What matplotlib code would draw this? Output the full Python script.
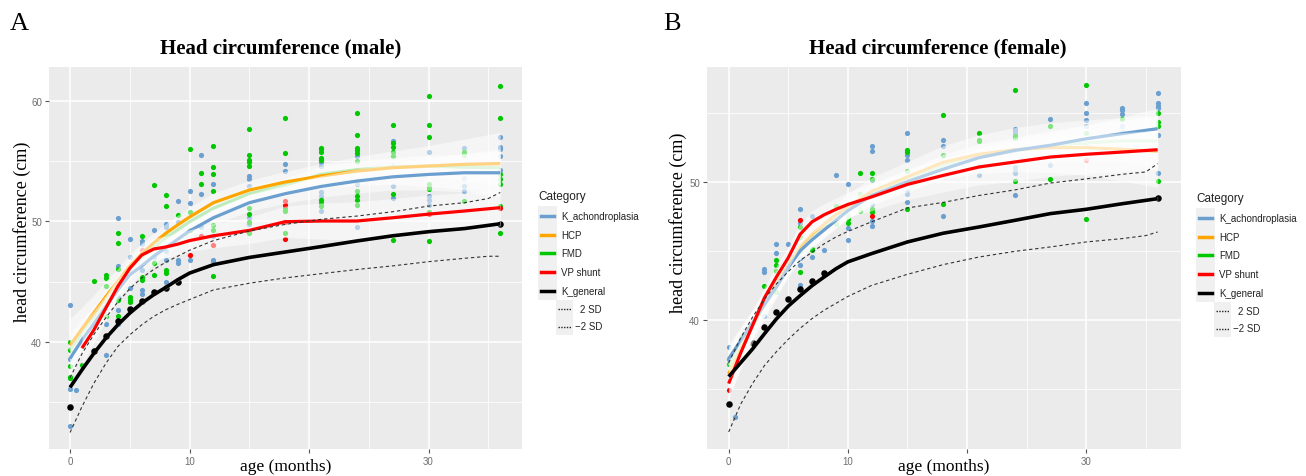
import numpy as np
import matplotlib
matplotlib.use("Agg")
import matplotlib.pyplot as plt
from matplotlib.patches import Rectangle
from matplotlib.lines import Line2D

plt.rcParams['font.family'] = ['Liberation Sans', 'DejaVu Sans']

# ---- smoothed curves (age grid shared by every curve) ----
ages = [0, 1, 2, 3, 4, 5, 6, 7, 8, 9, 10, 12, 15, 18, 21, 24, 27, 30, 33, 36]
sd_ages = [0, 1, 2, 3, 4, 5, 6, 7, 8, 9, 10, 12, 15, 18, 21, 24, 27, 30, 33, 35, 36]

categories = ['K_achondroplasia', 'HCP', 'FMD', 'VP shunt', 'K_general']
sd_labels = ['2 SD', '\u22122 SD']

# male
m_achon = [38.6, 40.15, 41.5, 42.9, 44.3, 45.55, 46.3, 47.1, 47.8, 48.5, 49.2, 50.3, 51.55, 52.3, 52.9, 53.35, 53.7, 53.9, 54.04, 54.04]
m_hcp = [39.7, 41.07, 42.4, 43.75, 45.0, 46.3, 47.3, 48.2, 49.0, 49.7, 50.36, 51.55, 52.6, 53.27, 53.77, 54.18, 54.46, 54.6, 54.74, 54.8]
m_fmd = [39.3, 40.7, 42.0, 43.3, 44.6, 46.0, 47.0, 47.8, 48.6, 49.3, 49.97, 51.1, 52.3, 53.0, 53.9, 54.3, 54.5, 54.6, 54.5, 54.46]
m_vp = [np.nan, 39.46, 40.98, 42.8, 44.6, 46.1, 47.2, 47.7, 47.87, 48.1, 48.4, 48.8, 49.25, 49.97, 50.03, 50.03, 50.3, 50.6, 50.86, 51.14]
m_gen = [36.2, 37.66, 39.04, 40.3, 41.4, 42.37, 43.2, 43.9, 44.5, 45.14, 45.7, 46.4, 47.0, 47.45, 47.9, 48.37, 48.8, 49.14, 49.4, 49.8]
m_up = [37.0, 39.0, 40.6, 42.0, 43.3, 44.4, 45.3, 46.0, 46.6, 47.1, 47.6, 48.4, 49.2, 49.75, 50.17, 50.44, 50.8, 51.27, 51.55, 51.9, 52.4]
m_low = [32.45, 34.6, 36.55, 38.2, 39.6, 40.57, 41.4, 42.1, 42.65, 43.1, 43.5, 44.3, 44.86, 45.3, 45.65, 46.0, 46.3, 46.65, 46.93, 47.1, 47.1]
# standard-error half widths of the smooths
m_achon_se = [1.6, 1.3, 1.1, 1.0, 0.9, 0.8, 0.7, 0.7, 0.6, 0.6, 0.6, 0.6, 0.7, 0.8, 0.9, 1.0, 1.1, 1.3, 1.6, 2.0]
m_hcp_se = [2.2, 1.8, 1.5, 1.3, 1.1, 1.0, 0.9, 0.8, 0.8, 0.8, 0.8, 0.8, 0.8, 0.9, 1.0, 1.2, 1.4, 1.7, 2.1, 2.6]
m_fmd_se = [1.4, 1.2, 1.0, 0.9, 0.8, 0.7, 0.6, 0.6, 0.6, 0.6, 0.6, 0.6, 0.6, 0.6, 0.7, 0.7, 0.8, 0.9, 1.1, 1.4]
m_vp_se = [np.nan, 1.4, 1.1, 1.0, 0.9, 0.9, 0.9, 0.9, 0.9, 0.9, 0.9, 1.0, 1.1, 1.3, 1.5, 1.6, 1.6, 1.6, 1.5, 1.5]
m_gen_se = [0.15] * 20

# female
f_achon = [37.2, 38.5, 39.8, 41.1, 42.4, 43.8, 45.0, 45.8, 46.5, 47.2, 47.9, 49.0, 50.0, 50.9, 51.73, 52.26, 52.63, 53.1, 53.47, 53.83]
f_hcp = [36.1, 37.9, 39.6, 41.1, 42.6, 44.0, 45.3, 46.2, 46.9, 47.6, 48.2, 49.3, 50.35, 51.4, 51.98, 52.31, 52.46, 52.46, 52.34, 52.2]
f_fmd = [36.7, 38.2, 39.7, 41.1, 42.5, 43.9, 45.1, 46.0, 46.7, 47.4, 48.0, 49.1, 50.15, 51.18, 51.83, 52.2, 52.6, 52.8, 52.94, 52.94]
f_vp = [35.4, 37.6, 39.6, 41.6, 43.1, 44.5, 46.2, 47.1, 47.6, 48.0, 48.35, 48.9, 49.8, 50.45, 51.06, 51.42, 51.78, 51.98, 52.14, 52.31]
f_gen = [35.9, 36.9, 37.9, 39.0, 40.07, 41.0, 41.76, 42.48, 43.1, 43.7, 44.2, 44.8, 45.64, 46.27, 46.72, 47.2, 47.69, 48.0, 48.4, 48.77]
f_up = [36.9, 38.7, 40.2, 41.5, 42.6, 43.5, 44.3, 44.9, 45.5, 46.0, 46.4, 47.1, 48.1, 48.5, 49.0, 49.4, 49.9, 50.2, 50.53, 50.7, 51.3]
f_low = [31.9, 33.9, 35.4, 36.7, 37.7, 38.6, 39.4, 40.1, 40.7, 41.2, 41.7, 42.5, 43.3, 44.0, 44.55, 44.96, 45.28, 45.64, 45.88, 46.1, 46.36]
f_achon_se = [1.1, 1.0, 0.9, 0.8, 0.7, 0.6, 0.6, 0.6, 0.6, 0.6, 0.6, 0.6, 0.6, 0.7, 0.7, 0.8, 0.9, 1.0, 1.2, 1.5]
f_hcp_se = [1.8, 1.5, 1.2, 1.1, 1.0, 0.9, 0.9, 0.9, 0.9, 0.9, 0.9, 1.0, 1.1, 1.2, 1.4, 1.6, 1.8, 2.0, 2.3, 2.6]
f_fmd_se = [1.3, 1.1, 1.0, 0.9, 0.8, 0.7, 0.7, 0.7, 0.7, 0.7, 0.7, 0.7, 0.7, 0.8, 0.9, 1.0, 1.1, 1.3, 1.5, 1.8]
f_vp_se = [1.1, 1.0, 0.9, 0.8, 0.8, 0.8, 0.8, 0.8, 0.8, 0.8, 0.9, 1.0, 1.1, 1.2, 1.3, 1.4, 1.4, 1.4, 1.4, 1.4]
f_gen_se = [0.15] * 20

# ---- individual measurements ----
m_achon_x = [0, 0, 0, 0, 0.5, 3, 3, 4, 4, 4, 4, 4, 5, 5, 5, 5, 6, 6, 6, 6, 6, 7, 7, 8, 8, 8, 8, 8,
             9, 9, 9, 9, 10, 10, 10, 11, 11, 11, 12, 12, 12, 12, 15, 15, 15, 15, 15, 18, 18,
             21, 21, 21, 21, 21, 24, 24, 24, 27, 27, 27, 27, 30, 30, 30, 30, 33, 33, 33, 33, 33,
             36, 36, 36, 36, 36]
m_achon_y = [43.06, 38.6, 36.05, 33.0, 36.0, 41.5, 38.9, 50.3, 46.3, 43.75, 42.6, 41.5, 48.5, 47.0, 45.7, 44.5,
             48.4, 48.1, 45.97, 44.3, 44.0, 49.25, 47.0, 49.75, 49.5, 47.5, 46.75, 45.0,
             51.7, 49.97, 46.8, 46.5, 52.5, 51.5, 46.8, 55.5, 52.3, 49.5, 53.13, 48.8, 46.8, 46.7,
             53.8, 53.5, 52.9, 50.3, 49.75, 54.8, 54.2,
             54.9, 54.6, 52.4, 52.1, 50.9, 55.4, 53.07, 49.5, 56.7, 54.6, 52.9, 51.97,
             55.8, 52.1, 51.8, 51.4, 56.07, 54.7, 53.6, 52.9, 52.5, 57.0, 56.2, 55.98, 55.4, 54.3]
m_fmd_x = [0, 0, 0, 0, 0, 1, 2, 3, 3, 3, 3, 4, 4, 4, 4, 4, 5, 5, 5, 6, 6, 6, 7, 7, 7, 8, 8, 8, 8, 8,
           9, 10, 10, 10, 11, 11, 12, 12, 12, 12, 12, 12, 12, 15, 15, 15, 15, 15, 15, 15, 15, 15,
           18, 18, 18, 18, 18, 21, 21, 21, 21, 21, 21, 21, 21, 24, 24, 24, 24, 24, 24, 24, 24, 24, 24,
           27, 27, 27, 27, 27, 27, 27, 30, 30, 30, 30, 30, 30, 30, 30, 33, 33, 33,
           36, 36, 36, 36, 36, 36, 36]
m_fmd_y = [40.0, 39.3, 38.0, 37.1, 37.0, 38.07, 45.05, 45.55, 45.3, 44.6, 42.1, 49.06, 48.2, 46.05, 43.5, 42.1,
           43.75, 43.5, 43.3, 48.8, 45.4, 45.1, 53.0, 46.5, 45.55, 52.2, 51.25, 48.9, 45.97, 45.7,
           50.5, 56.0, 50.8, 49.25, 54.0, 53.1, 56.3, 54.5, 53.96, 52.5, 49.7, 49.25, 45.5,
           57.7, 55.5, 55.07, 54.9, 54.6, 51.1, 50.6, 49.97, 49.06,
           58.6, 55.7, 51.1, 50.9, 49.0, 56.1, 56.0, 55.8, 55.3, 55.1, 51.8, 51.55, 51.3,
           58.97, 57.2, 56.1, 55.9, 55.7, 55.0, 52.5, 52.1, 51.75, 51.4,
           57.98, 56.5, 56.2, 55.8, 55.4, 52.3, 48.45, 60.4, 57.98, 57.0, 53.07, 52.85, 52.65, 50.8, 48.4,
           55.8, 55.5, 51.7, 61.27, 58.56, 53.9, 53.5, 53.07, 51.27, 49.06]
m_vp_x = [1, 6, 10, 11, 12, 18, 18, 18, 18, 30, 36]
m_vp_y = [39.7, 47.6, 47.2, 48.8, 48.0, 51.7, 51.4, 49.96, 48.5, 50.6, 51.1]
m_gen_x = [0, 2, 3, 4, 5, 6, 7, 8, 9, 36]
m_gen_y = [34.6, 39.2, 40.5, 41.7, 42.7, 43.4, 44.1, 44.5, 45.0, 49.8]

f_achon_x = [0, 0, 0.5, 3, 3, 3, 4, 4, 5, 6, 6, 6, 6, 6, 6, 7, 7, 8, 9, 10, 10, 10,
             12, 12, 12, 12, 12, 12, 12, 15, 15, 15, 15, 15, 15, 18, 18, 18, 21,
             24, 24, 24, 24, 24, 24, 24, 27, 27, 30, 30, 30, 30, 30, 33, 33, 33, 33, 33,
             36, 36, 36, 36, 36, 36]
f_achon_y = [38.02, 37.18, 32.96, 43.7, 43.5, 40.3, 45.5, 44.84, 45.5, 48.05, 47.0, 45.3, 44.5, 43.98, 42.5,
             47.5, 44.55, 45.04, 50.5, 49.8, 46.67, 45.8,
             52.6, 52.2, 50.1, 49.4, 48.4, 47.13, 46.8, 53.54, 51.95, 51.6, 49.37, 49.13, 48.5,
             53.04, 52.55, 47.5, 50.5, 53.83, 53.64, 53.47, 51.06, 50.8, 50.6, 49.0, 54.5, 51.18,
             55.7, 54.96, 54.43, 54.0, 52.75, 55.35, 55.16, 54.9, 54.0, 53.6,
             56.43, 55.69, 55.5, 55.3, 53.35, 50.6]
f_fmd_x = [0, 1, 3, 4, 4, 4, 4, 6, 6, 6, 6, 6, 7, 7, 9, 9, 10, 10, 10, 11, 11, 11, 11,
           12, 12, 12, 12, 15, 15, 15, 15, 18, 18, 18, 21, 21, 21, 21, 24, 24, 24, 24,
           27, 27, 30, 30, 30, 33, 36, 36, 36, 36]
f_fmd_y = [36.8, 38.75, 42.43, 44.3, 44.0, 43.57, 42.0, 46.7, 46.0, 45.15, 45.0, 43.5, 45.15, 45.04,
           48.24, 46.96, 47.57, 47.3, 47.0, 50.6, 49.1, 48.0, 47.9, 50.6, 50.2, 48.05, 47.8,
           52.3, 52.14, 50.77, 48.05, 54.84, 51.9, 48.4, 53.5, 53.04, 52.94, 51.1,
           56.65, 53.28, 53.16, 50.02, 54.0, 50.2, 57.0, 53.54, 47.33, 54.5, 54.99, 54.3, 54.0, 50.02]
f_vp_x = [0, 6, 12, 30]
f_vp_y = [34.96, 47.25, 47.5, 51.6]
f_gen_x = [0, 2, 3, 4, 5, 6, 7, 8, 36]
f_gen_y = [33.93, 38.3, 39.47, 40.6, 41.5, 42.24, 42.8, 43.4, 48.8]

colors = ['#6A9FCF', '#FFA500', '#00C800', '#FF0000', '#000000']
line_colors = ['#6A9FCF', '#FFA500', '#7FD97F', '#FF0000', '#000000']

W, H = 1306, 477
fig = plt.figure(figsize=(W / 100, H / 100), dpi=100)


def fx(px):
    return px / W


def fy(py):
    return 1 - py / H


def panel(rect, xlim, ylim, pts, curves, ses, up, low, title, title_x, letter, letter_x):
    ax = fig.add_axes(rect)
    ax.set_facecolor('#EBEBEB')
    for s in ax.spines.values():
        s.set_visible(False)
    ax.set_xticks([0, 10, 20, 30])
    ax.set_xticklabels(['0', '10', '', '30'])
    ax.set_xticks([5, 15, 25, 35], minor=True)
    ax.set_yticks([40, 50, 60])
    ax.set_yticks([35, 45, 55], minor=True)
    ax.set_xlim(*xlim)
    ax.set_ylim(*ylim)
    ax.tick_params(which='major', length=3, width=0.8, color='#555555', labelsize=7,
                   labelcolor='#6E6E6E', pad=2)
    ax.tick_params(which='minor', length=0)
    ax.grid(which='major', color='white', lw=1.1)
    ax.grid(which='minor', color='white', lw=0.55)
    ax.set_axisbelow(True)

    # raw measurements
    for (x, y), c in zip(pts, [colors[0], colors[2], colors[3], colors[4]]):
        size = 22 if c == '#000000' else 14
        ax.scatter(x, y, s=size, color=c, lw=0, zorder=2)

    # loess-like smooths with their bands, drawn group by group
    a = np.array(ages, dtype=float)
    order = [2, 1, 0, 3, 4]
    z = 3
    for i in order:
        yv = np.array(curves[i], dtype=float)
        se = np.array(ses[i], dtype=float)
        ax.fill_between(a, yv - se, yv + se, color='white', alpha=0.5, lw=0, zorder=z)
        ax.plot(a, yv, color=line_colors[i], lw=2.3 if i < 4 else 2.6, zorder=z + 0.5,
                solid_capstyle='butt')
        z += 1
    sa = np.array(sd_ages, dtype=float)
    for arr in (up, low):
        ax.plot(sa, arr, color='#333333', lw=0.8, ls=(0, (3, 2.5)), zorder=20)

    fig.text(fx(title_x), fy(48), title, ha='center', va='center', family='Liberation Serif',
             fontweight='bold', fontsize=15)
    cx = rect[0] + rect[2] / 2
    fig.text(cx, fy(467), 'age (months)', ha='center', va='center', family='Liberation Serif',
             fontsize=12.5)
    fig.text(fx(letter_x), fy(24), letter, ha='center', va='center', family='Liberation Serif',
             fontsize=19)
    return ax


def legend(x0, y0):
    fig.text(fx(x0), fy(y0), 'Category', ha='left', va='center', fontsize=8.5, color='#222222')
    for k, (lab, c) in enumerate(zip(categories, colors)):
        yy = y0 + 20 + k * 18.7
        fig.patches.append(Rectangle((fx(x0), fy(yy + 9)), 19 / W, 18.7 / H,
                                     transform=fig.transFigure, color='#F0F0F0', lw=0))
        fig.lines.append(Line2D([fx(x0 + 3), fx(x0 + 16)], [fy(yy), fy(yy)],
                                transform=fig.transFigure, color=c, lw=2.5))
        fig.text(fx(x0 + 23), fy(yy), lab, ha='left', va='center', fontsize=7, color='#222222')
    for k, lab in enumerate(sd_labels):
        yy = y0 + 113 + k * 17.5
        fig.patches.append(Rectangle((fx(x0 + 18), fy(yy + 8.7)), 17 / W, 17.5 / H,
                                     transform=fig.transFigure, color='#F0F0F0', lw=0))
        fig.lines.append(Line2D([fx(x0 + 20), fx(x0 + 33)], [fy(yy), fy(yy)],
                                transform=fig.transFigure, color='#222222', lw=1.0,
                                ls=(0, (1, 1))))
        fig.text(fx(x0 + 64), fy(yy), lab, ha='right', va='center', fontsize=7, color='#222222')


male_pts = [(m_achon_x, m_achon_y), (m_fmd_x, m_fmd_y), (m_vp_x, m_vp_y), (m_gen_x, m_gen_y)]
male_curves = [m_achon, m_hcp, m_fmd, m_vp, m_gen]
male_ses = [m_achon_se, m_hcp_se, m_fmd_se, m_vp_se, m_gen_se]
panel([fx(49), fy(450), 473 / W, 382 / H], (-1.76, 37.82), (31.08, 62.83),
      male_pts, male_curves, male_ses, m_up, m_low,
      'Head circumference (male)', 281, 'A', 19)
fig.text(fx(22), fy(232), 'head circumference (cm)', rotation=90, ha='center', va='center',
         family='Liberation Serif', fontsize=13)
legend(538, 197)

female_pts = [(f_achon_x, f_achon_y), (f_fmd_x, f_fmd_y), (f_vp_x, f_vp_y), (f_gen_x, f_gen_y)]
female_curves = [f_achon, f_hcp, f_fmd, f_vp, f_gen]
female_ses = [f_achon_se, f_hcp_se, f_fmd_se, f_vp_se, f_gen_se]
panel([fx(707), fy(450), 474 / W, 382 / H], (-1.82, 37.96), (30.67, 58.29),
      female_pts, female_curves, female_ses, f_up, f_low,
      'Head circumference (female)', 938, 'B', 672)
fig.text(fx(678), fy(223), 'head circumference (cm)', rotation=90, ha='center', va='center',
         family='Liberation Serif', fontsize=13)
legend(1196, 199)

fig.savefig('out.png', dpi=100, facecolor='white')
